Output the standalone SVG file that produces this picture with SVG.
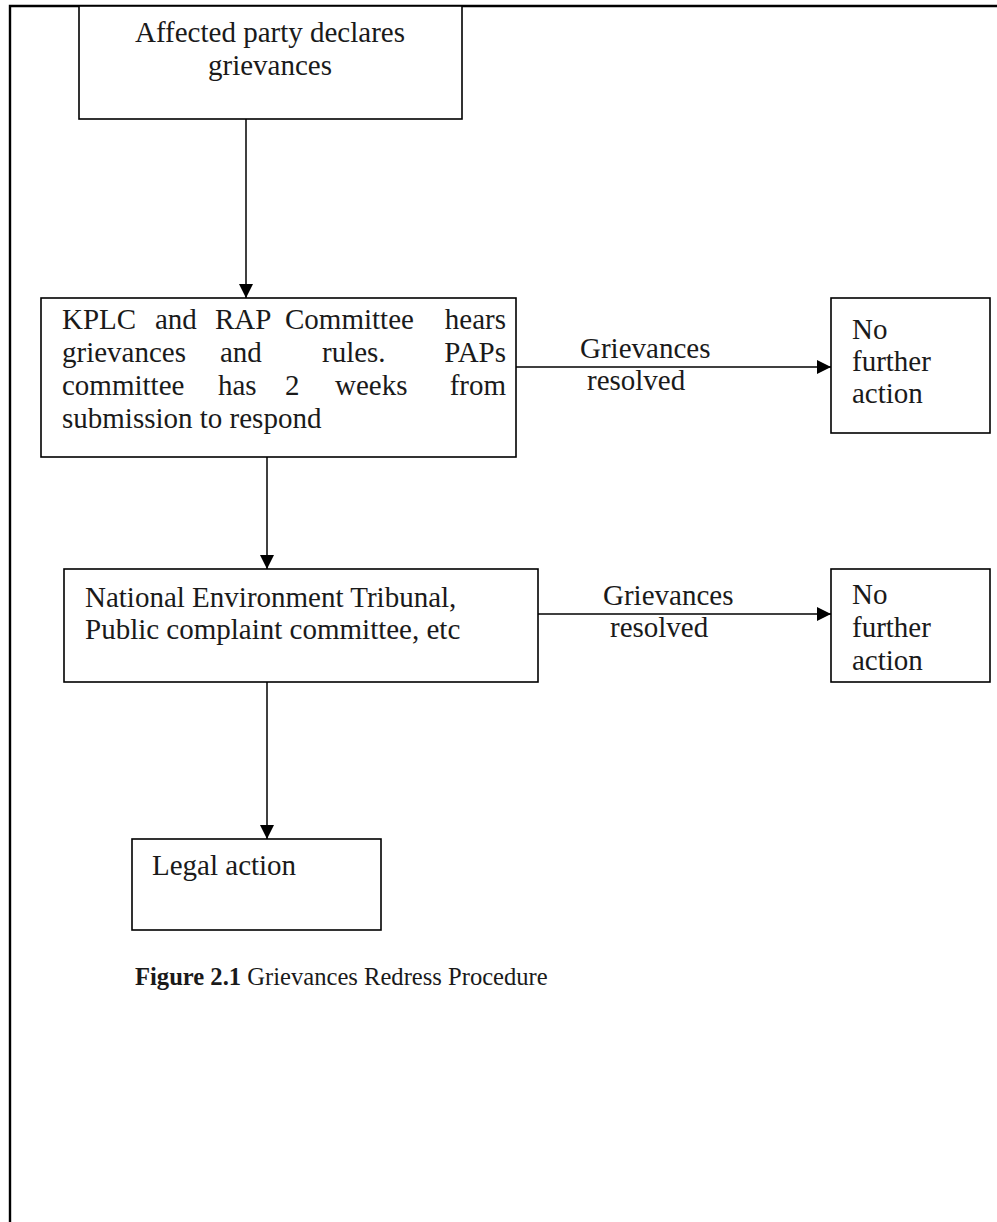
<svg xmlns="http://www.w3.org/2000/svg" width="997" height="1222" viewBox="0 0 997 1222">
<style>
.box{fill:#fff;stroke:#000;stroke-width:1.6}
.t{font-family:"Liberation Serif","Times New Roman",serif;font-size:29px;fill:#1a1a1a}
.cap{font-family:"Liberation Serif","Times New Roman",serif;font-size:24.6px;fill:#1a1a1a}
.c{fill:none;stroke:#000;stroke-width:1.5}
.border{fill:none;stroke:#000;stroke-width:2.4}
</style>
<defs>
<marker id="arr" viewBox="0 0 10 10" refX="10" refY="5" markerWidth="14" markerHeight="14" markerUnits="userSpaceOnUse" orient="auto">
<path d="M0,0 L10,5 L0,10 z" fill="#000"/>
</marker>
</defs>
<rect width="997" height="1222" fill="#fff"/>
<g id="page-border">
<path class="border" d="M10,1222 V6 H997"/>
</g>
<g id="connectors">
<line class="c" x1="246" y1="119" x2="246" y2="298" marker-end="url(#arr)"/>
<line class="c" x1="267" y1="457" x2="267" y2="569" marker-end="url(#arr)"/>
<line class="c" x1="267" y1="682" x2="267" y2="839" marker-end="url(#arr)"/>
<line class="c" x1="516" y1="367" x2="831" y2="367" marker-end="url(#arr)"/>
<line class="c" x1="538" y1="614" x2="831" y2="614" marker-end="url(#arr)"/>
<text class="t" x="580" y="358">Grievances</text>
<text class="t" x="587" y="390">resolved</text>
<text class="t" x="603" y="605">Grievances</text>
<text class="t" x="610" y="637">resolved</text>
</g>
<g id="n-declare">
<rect class="box" x="79" y="6" width="383" height="113"/>
<text class="t" x="270" y="42" text-anchor="middle">Affected party declares</text>
<text class="t" x="270" y="75" text-anchor="middle">grievances</text>
</g>
<g id="n-kplc">
<rect class="box" x="41" y="298" width="475" height="159"/>
<text class="t" y="329"><tspan x="62">KPLC</tspan><tspan x="155">and</tspan><tspan x="215">RAP</tspan><tspan x="285">Committee</tspan></text>
<text class="t" x="506" y="329" text-anchor="end">hears</text>
<text class="t" y="362"><tspan x="62">grievances</tspan><tspan x="220">and</tspan><tspan x="322">rules.</tspan></text>
<text class="t" x="506" y="362" text-anchor="end">PAPs</text>
<text class="t" y="395"><tspan x="62">committee</tspan><tspan x="218">has</tspan><tspan x="285">2</tspan><tspan x="335">weeks</tspan></text>
<text class="t" x="506" y="395" text-anchor="end">from</text>
<text class="t" x="62" y="428">submission to respond</text>
</g>
<g id="n-nfa1">
<rect class="box" x="831" y="298" width="159" height="135"/>
<text class="t" x="852" y="339">No</text>
<text class="t" x="852" y="371">further</text>
<text class="t" x="852" y="403">action</text>
</g>
<g id="n-tribunal">
<rect class="box" x="64" y="569" width="474" height="113"/>
<text class="t" x="85" y="607">National Environment Tribunal,</text>
<text class="t" x="85" y="639">Public complaint committee, etc</text>
</g>
<g id="n-nfa2">
<rect class="box" x="831" y="569" width="159" height="113"/>
<text class="t" x="852" y="604">No</text>
<text class="t" x="852" y="637">further</text>
<text class="t" x="852" y="670">action</text>
</g>
<g id="n-legal">
<rect class="box" x="132" y="839" width="249" height="91"/>
<text class="t" x="152" y="875">Legal action</text>
</g>
<g id="caption">
<text class="cap" x="135" y="985"><tspan font-weight="bold">Figure 2.1</tspan> Grievances Redress Procedure</text>
</g>
</svg>
